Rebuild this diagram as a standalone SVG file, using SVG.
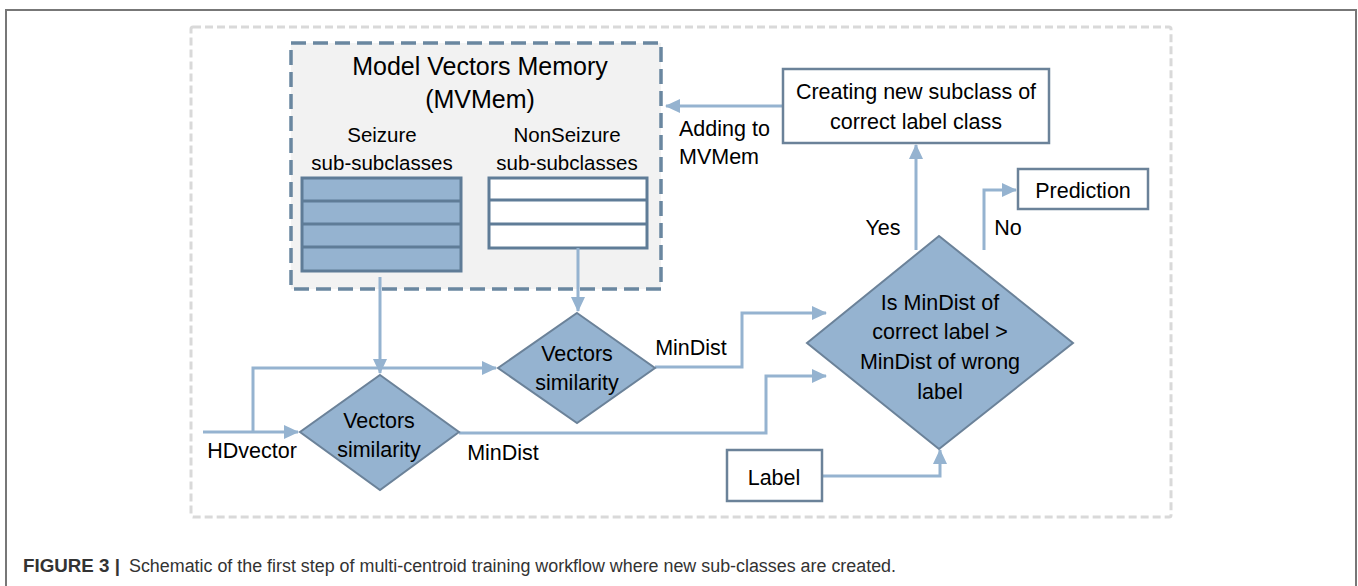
<svg xmlns="http://www.w3.org/2000/svg" width="1358" height="586" viewBox="0 0 1358 586">
<style>
text{font-family:"Liberation Sans",Arial,sans-serif;font-size:21.5px;fill:#000;text-anchor:middle}
.lt{text-anchor:start}
.conn{fill:none;stroke:#95b3d0;stroke-width:3}
.box{fill:#fff;stroke:#6b8299;stroke-width:2.5}
.dia{fill:#95b3d0;stroke:#6b8299;stroke-width:2}
.stk{stroke:#5f7c97;stroke-width:3}
.cap{font-size:18px;fill:#333;text-anchor:start}
</style>
<defs>
<marker id="ah" markerUnits="userSpaceOnUse" markerWidth="16" markerHeight="14" refX="14" refY="7" orient="auto">
<path d="M0,0 L15,7 L0,14 Z" fill="#95b3d0"/>
</marker>
</defs>
<rect width="1358" height="586" fill="#fff"/>
<path d="M6,586 V10 H1356 V586" fill="none" stroke="#777" stroke-width="2"/>
<rect x="191" y="27" width="980" height="490" fill="none" stroke="#d9d9d9" stroke-width="3" stroke-dasharray="8,4" rx="2"/>

<g id="mvmem">
<rect x="291" y="43" width="370" height="246" fill="#f2f2f2" stroke="#6a87a0" stroke-width="3.5" stroke-dasharray="15,7"/>
<text x="480" y="75" style="font-size:25px">Model Vectors Memory</text>
<text x="480" y="108" style="font-size:25px">(MVMem)</text>
</g>
<g id="seizure">
<text x="382" y="142" style="font-size:20.5px">Seizure</text>
<text x="382" y="170" style="font-size:20.5px">sub-subclasses</text>
<rect x="302" y="178" width="159" height="93" fill="#95b3d0" class="stk"/>
<path d="M302,201 H461 M302,224 H461 M302,247 H461" class="stk"/>
</g>
<g id="nonseizure">
<text x="567" y="142" style="font-size:20.5px">NonSeizure</text>
<text x="567" y="170" style="font-size:20.5px">sub-subclasses</text>
<rect x="489" y="178" width="158" height="70" fill="#fff" class="stk"/>
<path d="M489,200 H647 M489,224 H647" class="stk"/>
</g>

<g id="connectors">
<path class="conn" d="M203,432 H298" marker-end="url(#ah)"/>
<path class="conn" d="M253,432 V368 H496" marker-end="url(#ah)"/>
<path class="conn" d="M380,277 V373" marker-end="url(#ah)"/>
<path class="conn" d="M578,248 V311" marker-end="url(#ah)"/>
<path class="conn" d="M655,367 H742 V313 H826" marker-end="url(#ah)"/>
<path class="conn" d="M459,433 H766 V376 H826" marker-end="url(#ah)"/>
<path class="conn" d="M822,476 H940 V450" marker-end="url(#ah)"/>
<path class="conn" d="M916,250 V145" marker-end="url(#ah)"/>
<path class="conn" d="M984,250 V190 H1016" marker-end="url(#ah)"/>
<path class="conn" d="M783,106 H666" marker-end="url(#ah)"/>
<text x="252" y="458">HDvector</text>
<text x="503" y="460">MinDist</text>
<text x="691" y="355">MinDist</text>
<text x="883" y="235">Yes</text>
<text x="1008" y="235">No</text>
<text class="lt" x="679" y="136">Adding to</text>
<text class="lt" x="679" y="164">MVMem</text>
</g>

<g id="sim-upper">
<polygon class="dia" points="577,313 655,368 577,423 498,368"/>
<text x="577" y="361">Vectors</text>
<text x="577" y="390">similarity</text>
</g>
<g id="sim-lower">
<polygon class="dia" points="380,375 459,432 380,490 300,432"/>
<text x="379" y="428">Vectors</text>
<text x="379" y="457">similarity</text>
</g>
<g id="decision">
<polygon class="dia" points="939,236 1073,343 939,449 807,343"/>
<text x="940" y="310">Is MinDist of</text>
<text x="940" y="339">correct label &gt;</text>
<text x="940" y="369">MinDist of wrong</text>
<text x="940" y="399">label</text>
</g>
<g id="create">
<rect class="box" x="783" y="69" width="266" height="74"/>
<text x="916" y="99">Creating new subclass of</text>
<text x="916" y="129">correct label class</text>
</g>
<g id="prediction">
<rect class="box" x="1018" y="169" width="130" height="40"/>
<text x="1083" y="198">Prediction</text>
</g>
<g id="label">
<rect class="box" x="727" y="450" width="95" height="51"/>
<text x="774" y="485">Label</text>
</g>

<text class="cap" x="23" y="572" font-weight="bold" fill="#222" textLength="97" lengthAdjust="spacingAndGlyphs">FIGURE 3 |</text>
<text class="cap" x="129" y="572" textLength="767" lengthAdjust="spacingAndGlyphs">Schematic of the first step of multi-centroid training workflow where new sub-classes are created.</text>
</svg>
